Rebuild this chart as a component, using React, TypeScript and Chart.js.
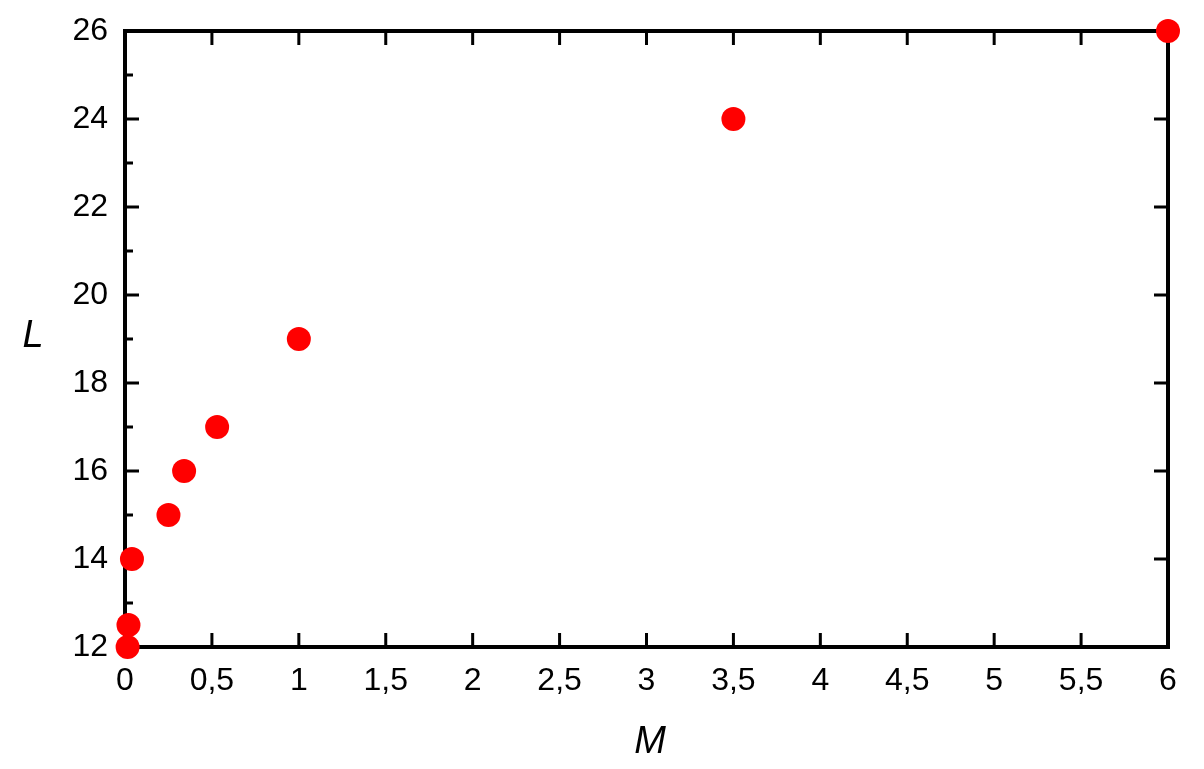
import React, { useEffect, useRef } from "react";
import { Chart, registerables } from "chart.js";

Chart.register(...registerables);

const mValues = [0.015, 0.02, 0.04, 0.25, 0.34, 0.53, 1, 3.5, 6];
const lValues = [12, 12.5, 14, 15, 16, 17, 19, 24, 26];
const xTickValues = [0, 0.5, 1, 1.5, 2, 2.5, 3, 3.5, 4, 4.5, 5, 5.5, 6];
const yTickValues = [12, 14, 16, 18, 20, 22, 24, 26];
const yMinorValues = [13, 15, 17, 19, 21, 23, 25];
const xTitle = "M";
const yTitle = "L";

const FONT = "'Liberation Sans', Arial, sans-serif";

const framePlugin = {
  id: "frame",
  beforeDatasetsDraw(chart: any) {
    const { ctx, chartArea } = chart;
    const xs = chart.scales.x;
    const ys = chart.scales.y;
    const { left, right, top, bottom } = chartArea;
    ctx.save();
    ctx.strokeStyle = "#000";
    ctx.lineWidth = 4;
    ctx.lineCap = "square";
    ctx.beginPath();
    ctx.rect(left, top, right - left, bottom - top);
    ctx.stroke();
    ctx.lineWidth = 3;
    ctx.lineCap = "butt";
    ctx.beginPath();
    const major = 14;
    const minor = 8;
    for (const v of xTickValues) {
      const px = xs.getPixelForValue(v);
      ctx.moveTo(px, bottom);
      ctx.lineTo(px, bottom - major);
      ctx.moveTo(px, top);
      ctx.lineTo(px, top + major);
    }
    for (const v of yTickValues) {
      const py = ys.getPixelForValue(v);
      ctx.moveTo(left, py);
      ctx.lineTo(left + major, py);
      ctx.moveTo(right, py);
      ctx.lineTo(right - major, py);
    }
    for (const v of yMinorValues) {
      const py = ys.getPixelForValue(v);
      ctx.moveTo(left, py);
      ctx.lineTo(left + minor, py);
    }
    ctx.stroke();
    ctx.fillStyle = "#000";
    ctx.font = `italic 38px ${FONT}`;
    ctx.textAlign = "center";
    ctx.textBaseline = "alphabetic";
    ctx.fillText(yTitle, 33, 347);
    ctx.fillText(xTitle, 650, 753);
    ctx.restore();
  },
};

export default function App() {
  const canvasRef = useRef<HTMLCanvasElement | null>(null);

  useEffect(() => {
    document.body.style.margin = "0";
    const canvas = canvasRef.current;
    if (!canvas) return;
    const chart = new Chart(canvas, {
      type: "scatter",
      data: {
        datasets: [
          {
            data: mValues.map((m, i) => ({ x: m, y: lValues[i] })),
            backgroundColor: "#ff0000",
            borderColor: "#ff0000",
            borderWidth: 0,
            pointRadius: 12,
            pointHoverRadius: 12,
            clip: false,
          },
        ],
      },
      plugins: [framePlugin],
      options: {
        animation: false,
        responsive: false,
        events: [],
        layout: { padding: { top: 31, right: 36, left: 0, bottom: 0 } },
        plugins: {
          legend: { display: false },
          tooltip: { enabled: false },
        },
        scales: {
          x: {
            type: "linear",
            min: 0,
            max: 6,
            border: { display: false },
            grid: { display: false, drawTicks: false },
            afterFit: (s: any) => {
              s.height = 122;
              s.paddingLeft = 0;
              s.paddingRight = 0;
            },
            afterBuildTicks: (s: any) => {
              s.ticks = xTickValues.map((v) => ({ value: v }));
            },
            ticks: {
              color: "#000",
              padding: 15,
              maxRotation: 0,
              autoSkip: false,
              font: { family: FONT, size: 32 },
              callback: (v: any) => String(v).replace(".", ","),
            },
          },
          y: {
            type: "linear",
            min: 12,
            max: 26,
            border: { display: false },
            grid: { display: false, drawTicks: false },
            afterFit: (s: any) => {
              s.width = 125;
              s.paddingTop = 0;
              s.paddingBottom = 0;
            },
            afterBuildTicks: (s: any) => {
              s.ticks = yTickValues.map((v) => ({ value: v }));
            },
            ticks: {
              color: "#000",
              padding: 17,
              autoSkip: false,
              font: { family: FONT, size: 32 },
            },
          },
        },
      },
    });
    return () => chart.destroy();
  }, []);

  return (
    <div style={{ position: "absolute", left: 0, top: 0, width: 1204, height: 769, background: "#fff" }}>
      <canvas ref={canvasRef} width={1204} height={769} style={{ display: "block" }} />
    </div>
  );
}
